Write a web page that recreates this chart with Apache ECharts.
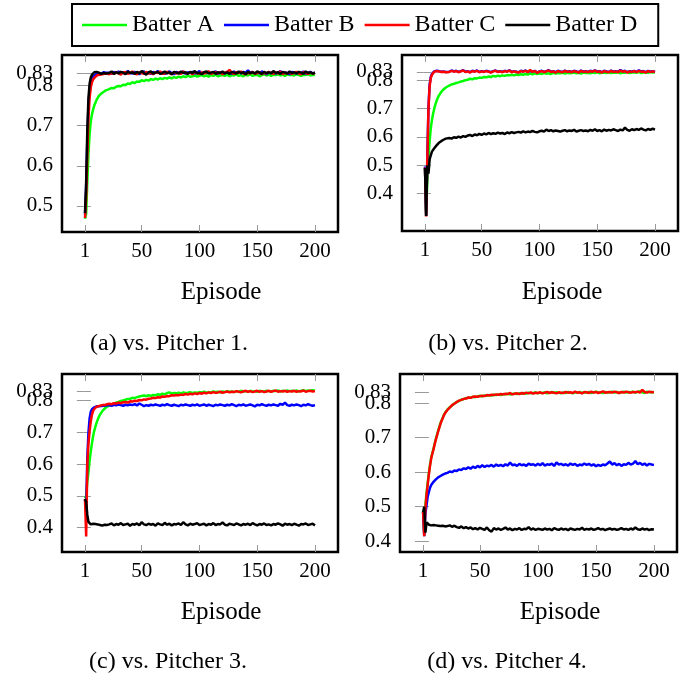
<!DOCTYPE html>
<html>
<head>
<meta charset="utf-8">
<script src="https://cdn.jsdelivr.net/npm/echarts@6/dist/echarts.min.js"></script>
<style>
  html, body { margin: 0; padding: 0; background: #fff; }
  #chart { width: 694px; height: 681px; }
</style>
</head>
<body>
<div id="chart"></div>
<script>
// episodes sampled: every episode up to 20, then every second one
const episodes = [
  1, 2, 3, 4, 5, 6, 7, 8, 9, 10, 11, 12, 13, 14, 15, 16, 17, 18, 19, 20,
  22, 24, 26, 28, 30, 32, 34, 36, 38, 40, 42, 44, 46, 48, 50, 52, 54, 56, 58, 60,
  62, 64, 66, 68, 70, 72, 74, 76, 78, 80, 82, 84, 86, 88, 90, 92, 94, 96, 98, 100,
  102, 104, 106, 108, 110, 112, 114, 116, 118, 120, 122, 124, 126, 128, 130, 132, 134, 136, 138, 140,
  142, 144, 146, 148, 150, 152, 154, 156, 158, 160, 162, 164, 166, 168, 170, 172, 174, 176, 178, 180,
  182, 184, 186, 188, 190, 192, 194, 196, 198, 200
];

const batterNames = ["Batter A", "Batter B", "Batter C", "Batter D"];
const batterColors = ["#00ff00", "#0000ff", "#ff0000", "#000000"];
const xTicks = [1, 50, 100, 150, 200];
const captions = ["(a) vs. Pitcher 1.", "(b) vs. Pitcher 2.", "(c) vs. Pitcher 3.", "(d) vs. Pitcher 4."];
const yTicks1 = [0.5, 0.6, 0.7, 0.8, 0.83];
const yTicks2 = [0.4, 0.5, 0.6, 0.7, 0.8, 0.83];
const yTicks3 = [0.4, 0.5, 0.6, 0.7, 0.8, 0.83];
const yTicks4 = [0.4, 0.5, 0.6, 0.7, 0.8, 0.83];
const yExtraTick = 0.83; // drawn on its own axis so it is not hidden by 0.8

// ---- vs. Pitcher 1 ----
const p1A = [
  0.468, 0.480, 0.560, 0.630, 0.680, 0.710, 0.728, 0.740, 0.750, 0.757, 0.764, 0.769, 0.774, 0.777, 0.780, 0.783, 0.784, 0.787, 0.788, 0.790,
  0.791, 0.794, 0.793, 0.797, 0.799, 0.798, 0.802, 0.801, 0.805, 0.804,
  0.808, 0.806, 0.810, 0.809, 0.813, 0.811, 0.814, 0.812, 0.816, 0.814,
  0.817, 0.815, 0.818, 0.816, 0.819, 0.817, 0.820, 0.818, 0.821, 0.819,
  0.822, 0.820, 0.823, 0.821, 0.824, 0.822, 0.823, 0.825, 0.822, 0.824,
  0.826, 0.823, 0.825, 0.822, 0.826, 0.824, 0.827, 0.823, 0.825, 0.826,
  0.824, 0.827, 0.823, 0.826, 0.825, 0.828, 0.824, 0.826, 0.823, 0.827,
  0.825, 0.828, 0.824, 0.826, 0.827, 0.823, 0.826, 0.828, 0.825, 0.827,
  0.824, 0.827, 0.826, 0.828, 0.825, 0.827, 0.824, 0.828, 0.826, 0.827,
  0.825, 0.828, 0.826, 0.824, 0.827, 0.826, 0.828, 0.825, 0.827, 0.826
];
const p1B = [
  0.478, 0.545, 0.665, 0.750, 0.790, 0.810, 0.818, 0.822, 0.825, 0.827, 0.829, 0.828, 0.830, 0.832, 0.829, 0.831, 0.833, 0.830, 0.832, 0.829,
  0.832, 0.829, 0.834, 0.831, 0.835, 0.830, 0.833, 0.829, 0.836, 0.831,
  0.830, 0.834, 0.832, 0.828, 0.833, 0.835, 0.830, 0.832, 0.829, 0.834,
  0.831, 0.836, 0.830, 0.833, 0.829, 0.832, 0.835, 0.831, 0.828, 0.834,
  0.832, 0.830, 0.835, 0.829, 0.833, 0.831, 0.834, 0.830, 0.832, 0.836,
  0.829, 0.833, 0.831, 0.834, 0.830, 0.832, 0.835, 0.829, 0.833, 0.831,
  0.830, 0.834, 0.832, 0.829, 0.835, 0.831, 0.833, 0.830, 0.834, 0.832,
  0.838, 0.831, 0.834, 0.829, 0.833, 0.830, 0.835, 0.832, 0.828, 0.833,
  0.831, 0.834, 0.830, 0.832, 0.836, 0.829, 0.833, 0.831, 0.828, 0.834,
  0.832, 0.830, 0.833, 0.831, 0.835, 0.829, 0.832, 0.834, 0.830, 0.832
];
const p1C = [
  0.470, 0.520, 0.630, 0.720, 0.770, 0.795, 0.808, 0.815, 0.819, 0.822, 0.823, 0.826, 0.824, 0.827, 0.825, 0.828, 0.826, 0.829, 0.827, 0.830,
  0.828, 0.831, 0.829, 0.833, 0.830, 0.827, 0.832, 0.834, 0.829, 0.831,
  0.835, 0.830, 0.828, 0.833, 0.831, 0.829, 0.834, 0.830, 0.832, 0.828,
  0.833, 0.831, 0.835, 0.829, 0.830, 0.834, 0.831, 0.828, 0.833, 0.830,
  0.832, 0.829, 0.835, 0.831, 0.830, 0.833, 0.828, 0.834, 0.831, 0.829,
  0.833, 0.830, 0.832, 0.835, 0.829, 0.831, 0.833, 0.830, 0.833, 0.828,
  0.832, 0.834, 0.839, 0.831, 0.829, 0.833, 0.831, 0.835, 0.830, 0.828,
  0.832, 0.830, 0.834, 0.829, 0.831, 0.833, 0.828, 0.832, 0.830, 0.834,
  0.831, 0.829, 0.833, 0.830, 0.835, 0.828, 0.832, 0.830, 0.833, 0.829,
  0.831, 0.834, 0.830, 0.828, 0.833, 0.831, 0.829, 0.832, 0.830, 0.831
];
const p1D = [
  0.482, 0.560, 0.690, 0.770, 0.805, 0.820, 0.827, 0.830, 0.833, 0.831, 0.834, 0.830, 0.832, 0.835, 0.829, 0.833, 0.831, 0.834, 0.830, 0.833,
  0.831, 0.835, 0.829, 0.833, 0.830, 0.834, 0.832, 0.828, 0.835, 0.831,
  0.833, 0.829, 0.834, 0.830, 0.836, 0.831, 0.827, 0.833, 0.835, 0.830,
  0.832, 0.834, 0.829, 0.831, 0.835, 0.830, 0.833, 0.828, 0.834, 0.832,
  0.830, 0.835, 0.831, 0.833, 0.829, 0.834, 0.831, 0.836, 0.830, 0.832,
  0.828, 0.833, 0.835, 0.830, 0.832, 0.834, 0.829, 0.833, 0.831, 0.835,
  0.830, 0.833, 0.829, 0.834, 0.832, 0.830, 0.835, 0.831, 0.833, 0.828,
  0.834, 0.831, 0.833, 0.830, 0.835, 0.832, 0.829, 0.834, 0.831, 0.833,
  0.830, 0.836, 0.831, 0.833, 0.829, 0.834, 0.832, 0.830, 0.835, 0.831,
  0.833, 0.830, 0.834, 0.832, 0.829, 0.835, 0.831, 0.833, 0.830, 0.832
];

// ---- vs. Pitcher 2 ----
const p2A = [
  0.490, 0.325, 0.450, 0.530, 0.585, 0.630, 0.660, 0.682, 0.700, 0.715, 0.728, 0.738, 0.746, 0.753, 0.759, 0.764, 0.768, 0.772, 0.775, 0.778,
  0.782, 0.786, 0.788, 0.791, 0.793, 0.796, 0.798, 0.801, 0.802, 0.806,
  0.804, 0.808, 0.807, 0.810, 0.809, 0.812, 0.811, 0.814, 0.812, 0.816,
  0.814, 0.817, 0.815, 0.818, 0.816, 0.819, 0.818, 0.820, 0.818, 0.821,
  0.819, 0.822, 0.820, 0.823, 0.821, 0.824, 0.822, 0.825, 0.823, 0.825,
  0.823, 0.826, 0.824, 0.825, 0.823, 0.827, 0.824, 0.826, 0.825, 0.827,
  0.824, 0.827, 0.825, 0.826, 0.828, 0.825, 0.827, 0.824, 0.828, 0.826,
  0.827, 0.825, 0.828, 0.826, 0.829, 0.825, 0.827, 0.828, 0.826, 0.829,
  0.826, 0.828, 0.827, 0.829, 0.825, 0.828, 0.827, 0.830, 0.826, 0.828,
  0.829, 0.827, 0.830, 0.826, 0.828, 0.829, 0.827, 0.830, 0.828, 0.829
];
const p2B = [
  0.495, 0.320, 0.530, 0.705, 0.785, 0.812, 0.823, 0.829, 0.832, 0.831, 0.834, 0.830, 0.833, 0.835, 0.831, 0.834, 0.832, 0.836, 0.830, 0.833,
  0.831, 0.835, 0.832, 0.834, 0.830, 0.833, 0.836, 0.831, 0.833, 0.829,
  0.834, 0.832, 0.835, 0.830, 0.833, 0.831, 0.834, 0.832, 0.829, 0.833,
  0.835, 0.831, 0.833, 0.830, 0.834, 0.832, 0.836, 0.830, 0.833, 0.831,
  0.829, 0.834, 0.832, 0.835, 0.830, 0.833, 0.831, 0.834, 0.828, 0.832,
  0.834, 0.830, 0.833, 0.836, 0.831, 0.833, 0.829, 0.834, 0.832, 0.830,
  0.835, 0.831, 0.833, 0.830, 0.834, 0.832, 0.829, 0.835, 0.831, 0.833,
  0.830, 0.834, 0.832, 0.836, 0.831, 0.833, 0.829, 0.834, 0.832, 0.830,
  0.835, 0.831, 0.833, 0.830, 0.837, 0.832, 0.834, 0.829, 0.833, 0.831,
  0.834, 0.830, 0.836, 0.832, 0.833, 0.829, 0.834, 0.831, 0.833, 0.830
];
const p2C = [
  0.492, 0.318, 0.520, 0.700, 0.780, 0.808, 0.820, 0.827, 0.831, 0.830, 0.833, 0.829, 0.832, 0.834, 0.830, 0.833, 0.831, 0.835, 0.829, 0.832,
  0.830, 0.834, 0.831, 0.833, 0.829, 0.832, 0.835, 0.830, 0.832, 0.828,
  0.833, 0.831, 0.834, 0.829, 0.832, 0.830, 0.833, 0.831, 0.828, 0.832,
  0.834, 0.830, 0.832, 0.829, 0.833, 0.831, 0.835, 0.829, 0.832, 0.830,
  0.828, 0.833, 0.831, 0.834, 0.829, 0.837, 0.830, 0.833, 0.827, 0.831,
  0.833, 0.829, 0.832, 0.835, 0.830, 0.832, 0.828, 0.833, 0.831, 0.829,
  0.834, 0.830, 0.832, 0.829, 0.833, 0.831, 0.828, 0.834, 0.830, 0.832,
  0.829, 0.833, 0.831, 0.835, 0.830, 0.832, 0.828, 0.833, 0.831, 0.829,
  0.834, 0.830, 0.832, 0.829, 0.835, 0.831, 0.833, 0.828, 0.832, 0.830,
  0.833, 0.829, 0.834, 0.831, 0.832, 0.828, 0.833, 0.830, 0.832, 0.830
];
const p2D = [
  0.490, 0.320, 0.500, 0.470, 0.520, 0.535, 0.548, 0.552, 0.560, 0.566, 0.570, 0.576, 0.579, 0.583, 0.585, 0.588, 0.590, 0.592, 0.594, 0.593,
  0.596, 0.594, 0.599, 0.597, 0.601, 0.598, 0.603, 0.600, 0.605, 0.607,
  0.603, 0.609, 0.606, 0.611, 0.607, 0.612, 0.609, 0.614, 0.610, 0.613,
  0.611, 0.615, 0.612, 0.614, 0.610, 0.616, 0.613, 0.617, 0.614, 0.616,
  0.618, 0.615, 0.620, 0.616, 0.619, 0.617, 0.621, 0.618, 0.616, 0.620,
  0.622, 0.619, 0.626, 0.621, 0.624, 0.620, 0.623, 0.621, 0.619, 0.622,
  0.624, 0.620, 0.623, 0.621, 0.625, 0.619, 0.622, 0.624, 0.621, 0.623,
  0.620, 0.625, 0.622, 0.627, 0.621, 0.624, 0.620, 0.626, 0.622, 0.625,
  0.623, 0.627, 0.624, 0.621, 0.626, 0.623, 0.633, 0.625, 0.622, 0.627,
  0.624, 0.628, 0.625, 0.630, 0.626, 0.623, 0.628, 0.625, 0.629, 0.626
];

// ---- vs. Pitcher 3 ----
const p3A = [
  0.492, 0.500, 0.545, 0.575, 0.610, 0.640, 0.665, 0.688, 0.705, 0.718, 0.730, 0.740, 0.749, 0.756, 0.762, 0.767, 0.771, 0.775, 0.778, 0.781,
  0.784, 0.788, 0.790, 0.794, 0.796, 0.799, 0.801, 0.803, 0.805, 0.806,
  0.809, 0.808, 0.811, 0.813, 0.815, 0.816, 0.814, 0.817, 0.815, 0.818,
  0.817, 0.820, 0.818, 0.822, 0.820, 0.824, 0.826, 0.822, 0.824, 0.823,
  0.825, 0.823, 0.826, 0.824, 0.825, 0.827, 0.824, 0.826, 0.825, 0.827,
  0.826, 0.828, 0.825, 0.827, 0.826, 0.829, 0.827, 0.828, 0.826, 0.829,
  0.827, 0.830, 0.828, 0.829, 0.827, 0.830, 0.828, 0.831, 0.829, 0.830,
  0.828, 0.831, 0.829, 0.830, 0.828, 0.831, 0.830, 0.829, 0.831, 0.830,
  0.829, 0.831, 0.830, 0.832, 0.829, 0.831, 0.830, 0.832, 0.830, 0.831,
  0.830, 0.832, 0.829, 0.831, 0.833, 0.830, 0.832, 0.831, 0.833, 0.831
];
const p3B = [
  0.490, 0.455, 0.620, 0.700, 0.745, 0.765, 0.773, 0.777, 0.779, 0.781, 0.782, 0.783, 0.782, 0.784, 0.783, 0.785, 0.784, 0.786, 0.785, 0.784,
  0.786, 0.784, 0.787, 0.785, 0.788, 0.786, 0.784, 0.787, 0.785, 0.788,
  0.786, 0.789, 0.785, 0.791, 0.787, 0.783, 0.786, 0.784, 0.787, 0.785,
  0.788, 0.786, 0.784, 0.787, 0.785, 0.789, 0.786, 0.784, 0.787, 0.785,
  0.783, 0.787, 0.785, 0.788, 0.786, 0.784, 0.787, 0.785, 0.788, 0.784,
  0.786, 0.788, 0.784, 0.787, 0.785, 0.783, 0.787, 0.785, 0.788, 0.786,
  0.784, 0.787, 0.785, 0.789, 0.786, 0.783, 0.787, 0.785, 0.788, 0.784,
  0.786, 0.788, 0.785, 0.782, 0.787, 0.785, 0.789, 0.786, 0.784, 0.787,
  0.785, 0.788, 0.786, 0.784, 0.790, 0.787, 0.794, 0.786, 0.784, 0.787,
  0.785, 0.788, 0.786, 0.783, 0.787, 0.785, 0.789, 0.786, 0.784, 0.786
];
const p3C = [
  0.490, 0.372, 0.600, 0.665, 0.705, 0.735, 0.755, 0.768, 0.774, 0.778, 0.780, 0.782, 0.783, 0.784, 0.785, 0.786, 0.787, 0.786, 0.788, 0.789,
  0.790, 0.789, 0.792, 0.791, 0.794, 0.792, 0.795, 0.796, 0.794, 0.798,
  0.797, 0.800, 0.799, 0.802, 0.801, 0.804, 0.803, 0.806, 0.807, 0.809,
  0.808, 0.811, 0.810, 0.813, 0.812, 0.815, 0.814, 0.817, 0.816, 0.818,
  0.817, 0.819, 0.818, 0.821, 0.819, 0.822, 0.820, 0.823, 0.821, 0.824,
  0.822, 0.825, 0.823, 0.826, 0.824, 0.827, 0.825, 0.826, 0.828, 0.825,
  0.827, 0.829, 0.826, 0.828, 0.827, 0.830, 0.828, 0.826, 0.829, 0.831,
  0.828, 0.830, 0.827, 0.829, 0.831, 0.828, 0.830, 0.827, 0.829, 0.831,
  0.828, 0.830, 0.832, 0.828, 0.830, 0.829, 0.831, 0.828, 0.830, 0.829,
  0.831, 0.828, 0.830, 0.829, 0.832, 0.828, 0.830, 0.831, 0.829, 0.830
];
const p3D = [
  0.490, 0.480, 0.440, 0.418, 0.412, 0.410, 0.408, 0.412, 0.409, 0.411, 0.407, 0.410, 0.413, 0.408, 0.410, 0.406, 0.411, 0.409, 0.412, 0.408,
  0.410, 0.413, 0.407, 0.411, 0.409, 0.414, 0.408, 0.410, 0.412, 0.406,
  0.411, 0.409, 0.413, 0.407, 0.417, 0.410, 0.408, 0.412, 0.409, 0.411,
  0.406, 0.413, 0.410, 0.408, 0.415, 0.409, 0.412, 0.407, 0.411, 0.410,
  0.413, 0.408, 0.417, 0.410, 0.407, 0.412, 0.409, 0.411, 0.414, 0.408,
  0.410, 0.412, 0.407, 0.411, 0.409, 0.414, 0.408, 0.411, 0.410, 0.416,
  0.409, 0.407, 0.412, 0.410, 0.408, 0.413, 0.410, 0.407, 0.411, 0.409,
  0.412, 0.408, 0.414, 0.410, 0.407, 0.411, 0.409, 0.413, 0.408, 0.410,
  0.407, 0.411, 0.409, 0.413, 0.410, 0.406, 0.412, 0.409, 0.411, 0.408,
  0.412, 0.409, 0.406, 0.411, 0.410, 0.413, 0.408, 0.410, 0.412, 0.407
];

// ---- vs. Pitcher 4 ----
const p4A = [
  0.488, 0.420, 0.505, 0.540, 0.570, 0.598, 0.622, 0.642, 0.655, 0.668, 0.683, 0.696, 0.708, 0.720, 0.731, 0.742, 0.750, 0.758, 0.766, 0.772,
  0.781, 0.788, 0.793, 0.799, 0.803, 0.806, 0.810, 0.811, 0.814, 0.815,
  0.816, 0.818, 0.817, 0.819, 0.821, 0.819, 0.822, 0.821, 0.823, 0.822,
  0.824, 0.823, 0.825, 0.823, 0.826, 0.825, 0.827, 0.825, 0.826, 0.828,
  0.826, 0.828, 0.827, 0.829, 0.827, 0.830, 0.828, 0.829, 0.831, 0.828,
  0.830, 0.829, 0.831, 0.828, 0.830, 0.832, 0.829, 0.831, 0.830, 0.828,
  0.831, 0.829, 0.832, 0.830, 0.828, 0.831, 0.830, 0.832, 0.829, 0.831,
  0.830, 0.832, 0.829, 0.831, 0.833, 0.830, 0.831, 0.829, 0.832, 0.830,
  0.831, 0.833, 0.830, 0.832, 0.829, 0.831, 0.833, 0.830, 0.832, 0.831,
  0.833, 0.830, 0.832, 0.834, 0.831, 0.829, 0.833, 0.831, 0.832, 0.830
];
const p4B = [
  0.485, 0.415, 0.480, 0.505, 0.530, 0.543, 0.555, 0.563, 0.568, 0.572, 0.576, 0.579, 0.582, 0.585, 0.587, 0.589, 0.591, 0.593, 0.595, 0.596,
  0.598, 0.602, 0.600, 0.605, 0.603, 0.608, 0.606, 0.611, 0.609, 0.614,
  0.610, 0.616, 0.612, 0.618, 0.614, 0.620, 0.615, 0.619, 0.617, 0.621,
  0.616, 0.622, 0.618, 0.621, 0.617, 0.623, 0.619, 0.628, 0.620, 0.622,
  0.618, 0.624, 0.620, 0.622, 0.618, 0.625, 0.621, 0.623, 0.619, 0.624,
  0.620, 0.626, 0.619, 0.623, 0.621, 0.625, 0.618, 0.628, 0.622, 0.624,
  0.620, 0.623, 0.619, 0.625, 0.621, 0.624, 0.618, 0.622, 0.620, 0.625,
  0.621, 0.624, 0.619, 0.623, 0.617, 0.621, 0.618, 0.622, 0.620, 0.625,
  0.631, 0.622, 0.626, 0.620, 0.624, 0.618, 0.623, 0.621, 0.627, 0.622,
  0.625, 0.632, 0.623, 0.627, 0.621, 0.625, 0.619, 0.624, 0.622, 0.621
];
const p4C = [
  0.485, 0.415, 0.495, 0.535, 0.565, 0.594, 0.619, 0.640, 0.654, 0.666, 0.681, 0.694, 0.706, 0.718, 0.729, 0.740, 0.749, 0.757, 0.765, 0.771,
  0.780, 0.787, 0.794, 0.798, 0.803, 0.807, 0.809, 0.812, 0.813, 0.816,
  0.815, 0.818, 0.819, 0.818, 0.820, 0.821, 0.820, 0.823, 0.822, 0.824,
  0.823, 0.825, 0.824, 0.826, 0.825, 0.827, 0.826, 0.829, 0.825, 0.827,
  0.828, 0.826, 0.829, 0.827, 0.830, 0.828, 0.831, 0.827, 0.830, 0.829,
  0.831, 0.828, 0.830, 0.832, 0.829, 0.831, 0.830, 0.828, 0.831, 0.830,
  0.829, 0.832, 0.830, 0.831, 0.829, 0.833, 0.830, 0.831, 0.828, 0.832,
  0.831, 0.829, 0.833, 0.830, 0.832, 0.829, 0.831, 0.834, 0.830, 0.831,
  0.832, 0.830, 0.833, 0.831, 0.829, 0.832, 0.830, 0.833, 0.831, 0.830,
  0.832, 0.831, 0.833, 0.830, 0.838, 0.832, 0.830, 0.833, 0.831, 0.832
];
const p4D = [
  0.485, 0.500, 0.425, 0.455, 0.452, 0.448, 0.450, 0.446, 0.449, 0.447, 0.451, 0.446, 0.448, 0.445, 0.449, 0.444, 0.447, 0.445, 0.448, 0.443,
  0.444, 0.446, 0.442, 0.445, 0.441, 0.439, 0.443, 0.438, 0.441, 0.437,
  0.440, 0.435, 0.438, 0.434, 0.439, 0.436, 0.433, 0.440, 0.432, 0.428,
  0.438, 0.434, 0.437, 0.433, 0.436, 0.440, 0.434, 0.437, 0.432, 0.436,
  0.434, 0.438, 0.433, 0.436, 0.435, 0.441, 0.434, 0.437, 0.433, 0.436,
  0.435, 0.433, 0.437, 0.434, 0.436, 0.432, 0.438, 0.435, 0.433, 0.437,
  0.434, 0.436, 0.432, 0.437, 0.435, 0.433, 0.436, 0.434, 0.439, 0.433,
  0.436, 0.434, 0.437, 0.433, 0.435, 0.438, 0.434, 0.436, 0.432, 0.435,
  0.437, 0.434, 0.436, 0.433, 0.435, 0.438, 0.434, 0.436, 0.433, 0.437,
  0.434, 0.440, 0.435, 0.433, 0.437, 0.434, 0.436, 0.432, 0.435, 0.434
];

const FONT = "Liberation Serif";

// panel layout (pixel boxes of the four plots)
const grids = [
  { left: 62, top: 55, width: 276, height: 177 },
  { left: 402, top: 55, width: 276, height: 176 },
  { left: 62, top: 374, width: 276, height: 178 },
  { left: 400, top: 374, width: 277, height: 178 }
];
const yRanges = [[0.435, 0.876], [0.267, 0.890], [0.323, 0.884], [0.369, 0.884]];
const yTickSets = [yTicks1, yTicks2, yTicks3, yTicks4];
const panelData = [
  [p1A, p1B, p1C, p1D],
  [p2A, p2B, p2C, p2D],
  [p3A, p3B, p3C, p3D],
  [p4A, p4B, p4C, p4D]
];
const episodePos = [[221, 292], [562, 292], [221, 612], [560, 612]];
const captionPos = [[169, 344], [508, 344], [168, 662], [507, 662]];

const tickStyle = { color: "#999", width: 1 };
const labelStyle = { margin: 9, color: "#000", fontFamily: FONT, fontSize: 21, hideOverlap: false };

const xAxis = [];
const yAxis = [];
const series = [];
const graphic = [];

grids.forEach((g, p) => {
  g.show = true;
  g.borderColor = "#000";
  g.borderWidth = 2.5;
  g.backgroundColor = "transparent";
  g.outerBoundsMode = "none";
  g.containLabel = false;

  ["bottom", "top"].forEach((pos) => {
    xAxis.push({
      type: "value",
      gridIndex: p,
      position: pos,
      min: -18.9,
      max: 219.9,
      axisLine: { show: false },
      splitLine: { show: false },
      axisTick: { inside: true, length: 7, lineStyle: tickStyle, customValues: xTicks },
      axisLabel: pos === "bottom"
        ? Object.assign({ customValues: xTicks }, labelStyle)
        : { show: false }
    });
  });

  const base = {
    type: "value",
    gridIndex: p,
    min: yRanges[p][0],
    max: yRanges[p][1],
    axisLine: { show: false },
    splitLine: { show: false }
  };
  // left: ticks and all labels except 0.83
  yAxis.push(Object.assign({}, base, {
    position: "left",
    axisTick: { inside: true, length: 7, lineStyle: tickStyle, customValues: yTickSets[p] },
    axisLabel: Object.assign({ customValues: yTickSets[p].filter((v) => v !== yExtraTick) }, labelStyle)
  }));
  // right: mirrored ticks only
  yAxis.push(Object.assign({}, base, {
    position: "right",
    axisTick: { inside: true, length: 7, lineStyle: tickStyle, customValues: yTickSets[p] },
    axisLabel: { show: false }
  }));
  // left again: the 0.83 label alone
  yAxis.push(Object.assign({}, base, {
    position: "left",
    offset: 0,
    axisTick: { show: false },
    axisLabel: Object.assign({ customValues: [yExtraTick] }, labelStyle)
  }));

  panelData[p].forEach((values, b) => {
    series.push({
      name: batterNames[b],
      type: "line",
      xAxisIndex: p * 2,
      yAxisIndex: p * 3,
      data: episodes.map((e, i) => [e, values[i]]),
      showSymbol: false,
      symbol: "none",
      color: batterColors[b],
      lineStyle: { width: 2.5, color: batterColors[b] },
      emphasis: { disabled: true },
      z: 2 + b
    });
  });

  graphic.push({
    type: "text",
    x: episodePos[p][0],
    y: episodePos[p][1],
    style: { text: "Episode", font: '25px "Liberation Serif"', fill: "#000", align: "center", verticalAlign: "middle" }
  });
  graphic.push({
    type: "text",
    x: captionPos[p][0],
    y: captionPos[p][1],
    style: { text: captions[p], font: '24px "Liberation Serif"', fill: "#000", align: "center", verticalAlign: "middle" }
  });
});

const chart = echarts.init(document.getElementById("chart"));
chart.setOption({
  animation: false,
  backgroundColor: "#fff",
  legend: {
    data: batterNames,
    left: 72,
    top: 4,
    orient: "horizontal",
    icon: "rect",
    itemWidth: 45,
    itemHeight: 2.5,
    itemGap: 10,
    padding: [9, 21, 9, 10],
    borderColor: "#000",
    borderWidth: 2,
    textStyle: { fontFamily: FONT, fontSize: 24, color: "#000" }
  },
  grid: grids,
  xAxis: xAxis,
  yAxis: yAxis,
  series: series,
  graphic: graphic
});
</script>
</body>
</html>
